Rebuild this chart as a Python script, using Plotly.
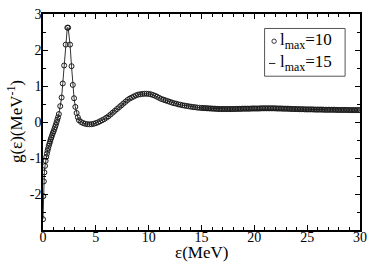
import plotly.graph_objects as go

# energies (MeV) and level density g(eps) (MeV^-1)
eps = [0.00, 0.03, 0.08, 0.13, 0.19, 0.25, 0.31, 0.37, 0.43, 0.49, 0.55, 0.61, 0.67, 0.73, 0.79,
       0.86, 0.93, 1.00, 1.07, 1.14, 1.21, 1.28, 1.35, 1.42, 1.50, 1.63, 1.76, 1.87, 2.00, 2.15,
       2.30, 2.38, 2.56, 2.70, 2.82, 2.94, 3.06, 3.18, 3.30,
       3.4, 3.6, 3.8, 4.0, 4.2, 4.4, 4.6, 4.8, 5.0, 5.2, 5.4, 5.6, 5.8, 6.0, 6.2, 6.4, 6.6, 6.8,
       7.0, 7.2, 7.4, 7.6, 7.8, 8.0, 8.2, 8.4, 8.6, 8.8, 9.0, 9.2, 9.4, 9.6, 9.8, 10.0, 10.2,
       10.4, 10.6, 10.8, 11.0, 11.2, 11.4, 11.6, 11.8, 12.0, 12.2, 12.4, 12.6, 12.8, 13.0, 13.2,
       13.4, 13.6, 13.8, 14.0, 14.2, 14.4, 14.6, 14.8, 15.0,
       15.15, 15.3, 15.45, 15.6, 15.75, 15.9, 16.05, 16.2, 16.35, 16.5, 16.65, 16.8, 16.95, 17.1,
       17.25, 17.4, 17.55, 17.7, 17.85, 18.0, 18.15, 18.3, 18.45, 18.6, 18.75, 18.9, 19.05, 19.2,
       19.35, 19.5, 19.65, 19.8, 19.95, 20.1, 20.25, 20.4, 20.55, 20.7, 20.85, 21.0, 21.15, 21.3,
       21.45, 21.6, 21.75, 21.9, 22.05, 22.2, 22.35, 22.5, 22.65, 22.8, 22.95, 23.1, 23.25, 23.4,
       23.55, 23.7, 23.85, 24.0, 24.15, 24.3, 24.45, 24.6, 24.75, 24.9, 25.05, 25.2, 25.35, 25.5,
       25.65, 25.8, 25.95, 26.1, 26.25, 26.4, 26.55, 26.7, 26.85, 27.0, 27.15, 27.3, 27.45, 27.6,
       27.75, 27.9, 28.05, 28.2, 28.35, 28.5, 28.65, 28.8, 28.95, 29.1, 29.25, 29.4, 29.55, 29.7,
       29.85, 30.0]
g = [-2.70, -2.06, -1.65, -1.40, -1.22, -1.08, -0.97, -0.88, -0.80, -0.73, -0.66, -0.60, -0.54, -0.48, -0.43,
     -0.37, -0.31, -0.26, -0.20, -0.14, -0.08, -0.01, 0.06, 0.13, 0.22, 0.44, 0.68, 1.07, 1.57, 2.15,
     2.62, 2.62, 2.15, 1.55, 1.03, 0.66, 0.42, 0.25, 0.13,
     0.05, 0.00, -0.03, -0.05, -0.06, -0.065, -0.06, -0.05, -0.03, -0.01, 0.02, 0.05, 0.08, 0.12, 0.16, 0.21, 0.26, 0.31,
     0.36, 0.41, 0.46, 0.51, 0.56, 0.61, 0.65, 0.68, 0.71, 0.74, 0.76, 0.77, 0.78, 0.785, 0.785, 0.78, 0.77,
     0.75, 0.73, 0.70, 0.67, 0.64, 0.62, 0.60, 0.58, 0.56, 0.54, 0.52, 0.51, 0.49, 0.48, 0.465,
     0.455, 0.445, 0.435, 0.425, 0.415, 0.41, 0.40, 0.395, 0.39,
     0.387, 0.385, 0.382, 0.38, 0.377, 0.375, 0.372, 0.37, 0.367, 0.365, 0.362, 0.36, 0.36, 0.36,
     0.36, 0.36, 0.36, 0.36, 0.36, 0.36, 0.362, 0.365, 0.365, 0.365, 0.367, 0.37, 0.37, 0.37,
     0.37, 0.37, 0.372, 0.375, 0.375, 0.375, 0.375, 0.375, 0.377, 0.38, 0.38, 0.38, 0.38, 0.38,
     0.38, 0.38, 0.38, 0.38, 0.377, 0.375, 0.375, 0.375, 0.372, 0.37, 0.37, 0.37, 0.367, 0.365,
     0.362, 0.36, 0.36, 0.36, 0.357, 0.355, 0.355, 0.355, 0.352, 0.35, 0.35, 0.35, 0.35, 0.35,
     0.347, 0.345, 0.345, 0.345, 0.345, 0.345, 0.342, 0.34, 0.34, 0.34, 0.34, 0.34, 0.34, 0.34,
     0.337, 0.335, 0.335, 0.335, 0.335, 0.335, 0.335, 0.335, 0.332, 0.33, 0.33, 0.33, 0.33, 0.33,
     0.33, 0.33]

x_ticks = [0, 5, 10, 15, 20, 25, 30]
y_ticks = [-3, -2, -1, 0, 1, 2, 3]
y_tick_text = ["", "-2", "-1", "0", "1", "2", "3"]
legend_labels = ["l<sub>max</sub>=10", "l<sub>max</sub>=15"]
x_title = "ε(MeV)"
y_title = "g(ε)(MeV<sup>-1</sup>)"

FONT = "Liberation Serif, Times New Roman, serif"

fig = go.Figure()
fig.add_trace(go.Scatter(x=eps, y=g, mode="lines", line=dict(color="#333", width=1),
                         showlegend=False, hoverinfo="skip"))
fig.add_trace(go.Scatter(x=eps, y=g, mode="markers",
                         marker=dict(symbol="circle-open", size=5, color="#1a1a1a",
                                     line=dict(width=1.0, color="#1a1a1a")),
                         showlegend=False))

axis_common = dict(showline=True, linecolor="black", linewidth=1.5, mirror="ticks",
                   ticks="inside", ticklen=5, tickwidth=1, tickcolor="black",
                   showgrid=False, zeroline=False,
                   tickfont=dict(family=FONT, size=14, color="black"))

fig.update_xaxes(range=[0, 30], tickmode="array", tickvals=x_ticks, ticklabelstandoff=-7,
                 minor=dict(dtick=1, tick0=0, ticklen=3, ticks="inside", tickcolor="black"),
                 **axis_common)
fig.update_yaxes(range=[-3, 3], tickmode="array", tickvals=y_ticks, ticktext=y_tick_text,
                 ticklabelstandoff=-3,
                 minor=dict(dtick=0.5, tick0=0, ticklen=3, ticks="inside", tickcolor="black"),
                 **axis_common)

# axis titles
fig.add_annotation(text=x_title, xref="paper", yref="paper", x=0.5, y=-0.105, xanchor="center",
                   yanchor="middle", showarrow=False, font=dict(family=FONT, size=17, color="black"))
fig.add_annotation(text=y_title, xref="paper", yref="paper", x=-0.088, y=0.5, xanchor="center",
                   yanchor="middle", textangle=-90, showarrow=False,
                   font=dict(family=FONT, size=17, color="black"))

# manual legend
fig.add_shape(type="rect", xref="paper", yref="paper", x0=0.699, x1=0.953, y0=0.712, y1=0.933,
              line=dict(color="#555", width=1), fillcolor="white", layer="above")
fig.add_shape(type="circle", xref="paper", yref="paper", xsizemode="pixel", ysizemode="pixel",
              xanchor=0.729, yanchor=0.874, x0=-2.2, x1=2.2, y0=-2.2, y1=2.2,
              line=dict(color="#222", width=0.9), layer="above")
fig.add_shape(type="line", xref="paper", yref="paper", x0=0.713, x1=0.733, y0=0.771, y1=0.771,
              line=dict(color="#222", width=1), layer="above")
for lab, yy in zip(legend_labels, [0.874, 0.771]):
    fig.add_annotation(text=lab, xref="paper", yref="paper", x=0.742, y=yy, xanchor="left",
                       yanchor="middle", showarrow=False,
                       font=dict(family=FONT, size=17, color="black"))

fig.update_layout(width=374, height=265, margin=dict(l=43, r=9, t=7, b=35),
                  plot_bgcolor="white", paper_bgcolor="white",
                  font=dict(family=FONT, color="black"))
fig.write_html("out.html", config={"displayModeBar": False},
               post_script="document.body.style.margin='0';")
